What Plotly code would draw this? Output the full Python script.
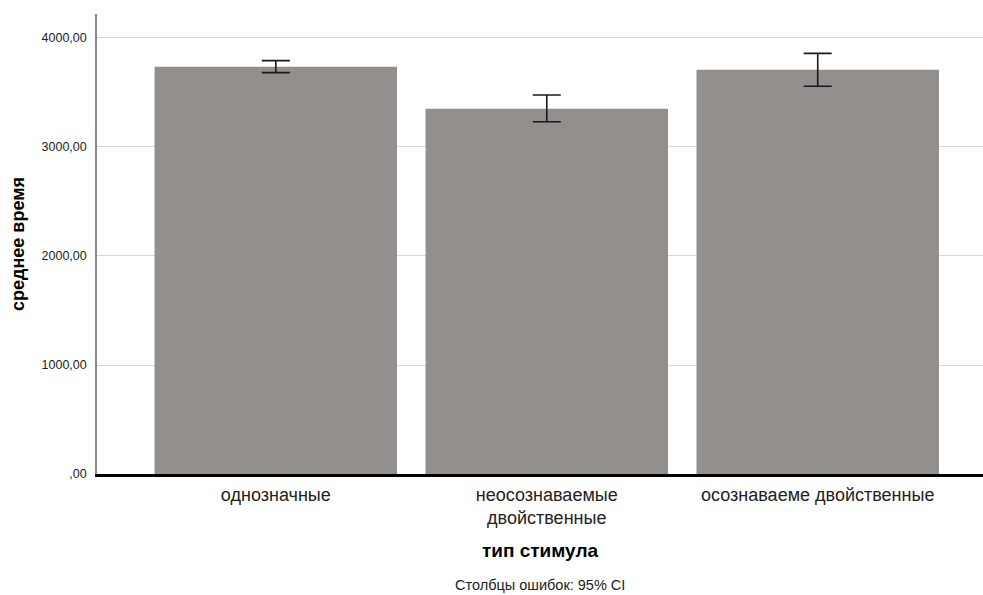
import plotly.graph_objects as go

categories = ["однозначные", "неосознаваемые<br>двойственные", "осознаваеме двойственные"]
means = [3737, 3351, 3709]
ci_plus = [55, 126, 150]
ci_minus = [55, 119, 152]
tick_vals = [0, 1000, 2000, 3000, 4000]
tick_text = [",00", "1000,00", "2000,00", "3000,00", "4000,00"]

fig = go.Figure()
fig.add_trace(go.Bar(
    x=[0, 1, 2], y=means,
    marker=dict(color="#938f8d", line=dict(width=0)),
    width=0.895,
    error_y=dict(type="data", symmetric=False, array=ci_plus, arrayminus=ci_minus,
                 color="#1a1a1a", thickness=1.6, width=14),
    showlegend=False,
    hoverinfo="skip",
))

font = "Liberation Sans, Arial, sans-serif"
fig.update_layout(
    width=983, height=595,
    margin=dict(l=97, r=0, t=14, b=121),
    paper_bgcolor="white", plot_bgcolor="white",
    font=dict(family=font, color="#222"),
    xaxis=dict(
        range=[-0.66, 2.61],
        tickmode="array", tickvals=[0, 1, 2], ticktext=categories,
        tickfont=dict(size=18, color="#222"),
        showline=True, linecolor="#000", linewidth=3,
        showgrid=False, zeroline=False, ticks="", ticklabelstandoff=2,
        title=dict(text="<b>тип стимула</b>", font=dict(size=19, color="#000"), standoff=17),
    ),
    yaxis=dict(
        range=[0, 4220],
        tickmode="array", tickvals=tick_vals, ticktext=tick_text,
        tickfont=dict(size=12.5, color="#222"),
        showline=True, linecolor="#8a8a8a", linewidth=1.5,
        showgrid=True, gridcolor="#d6d6d6", gridwidth=1,
        zeroline=False, ticks="", ticklabelstandoff=6,
        title=dict(text="<b>среднее время</b>", font=dict(size=18, color="#000"), standoff=12),
    ),
    annotations=[dict(
        text="Столбцы ошибок: 95% CI", xref="paper", yref="paper",
        x=0.5, y=0, yshift=-111, xanchor="center", yanchor="middle",
        borderpad=0,
        showarrow=False, font=dict(size=14.5, color="#222", family=font),
    )],
)

fig.write_html("out.html", config={"displayModeBar": False},
               post_script="document.body.style.margin='0';document.body.style.overflow='hidden';")
